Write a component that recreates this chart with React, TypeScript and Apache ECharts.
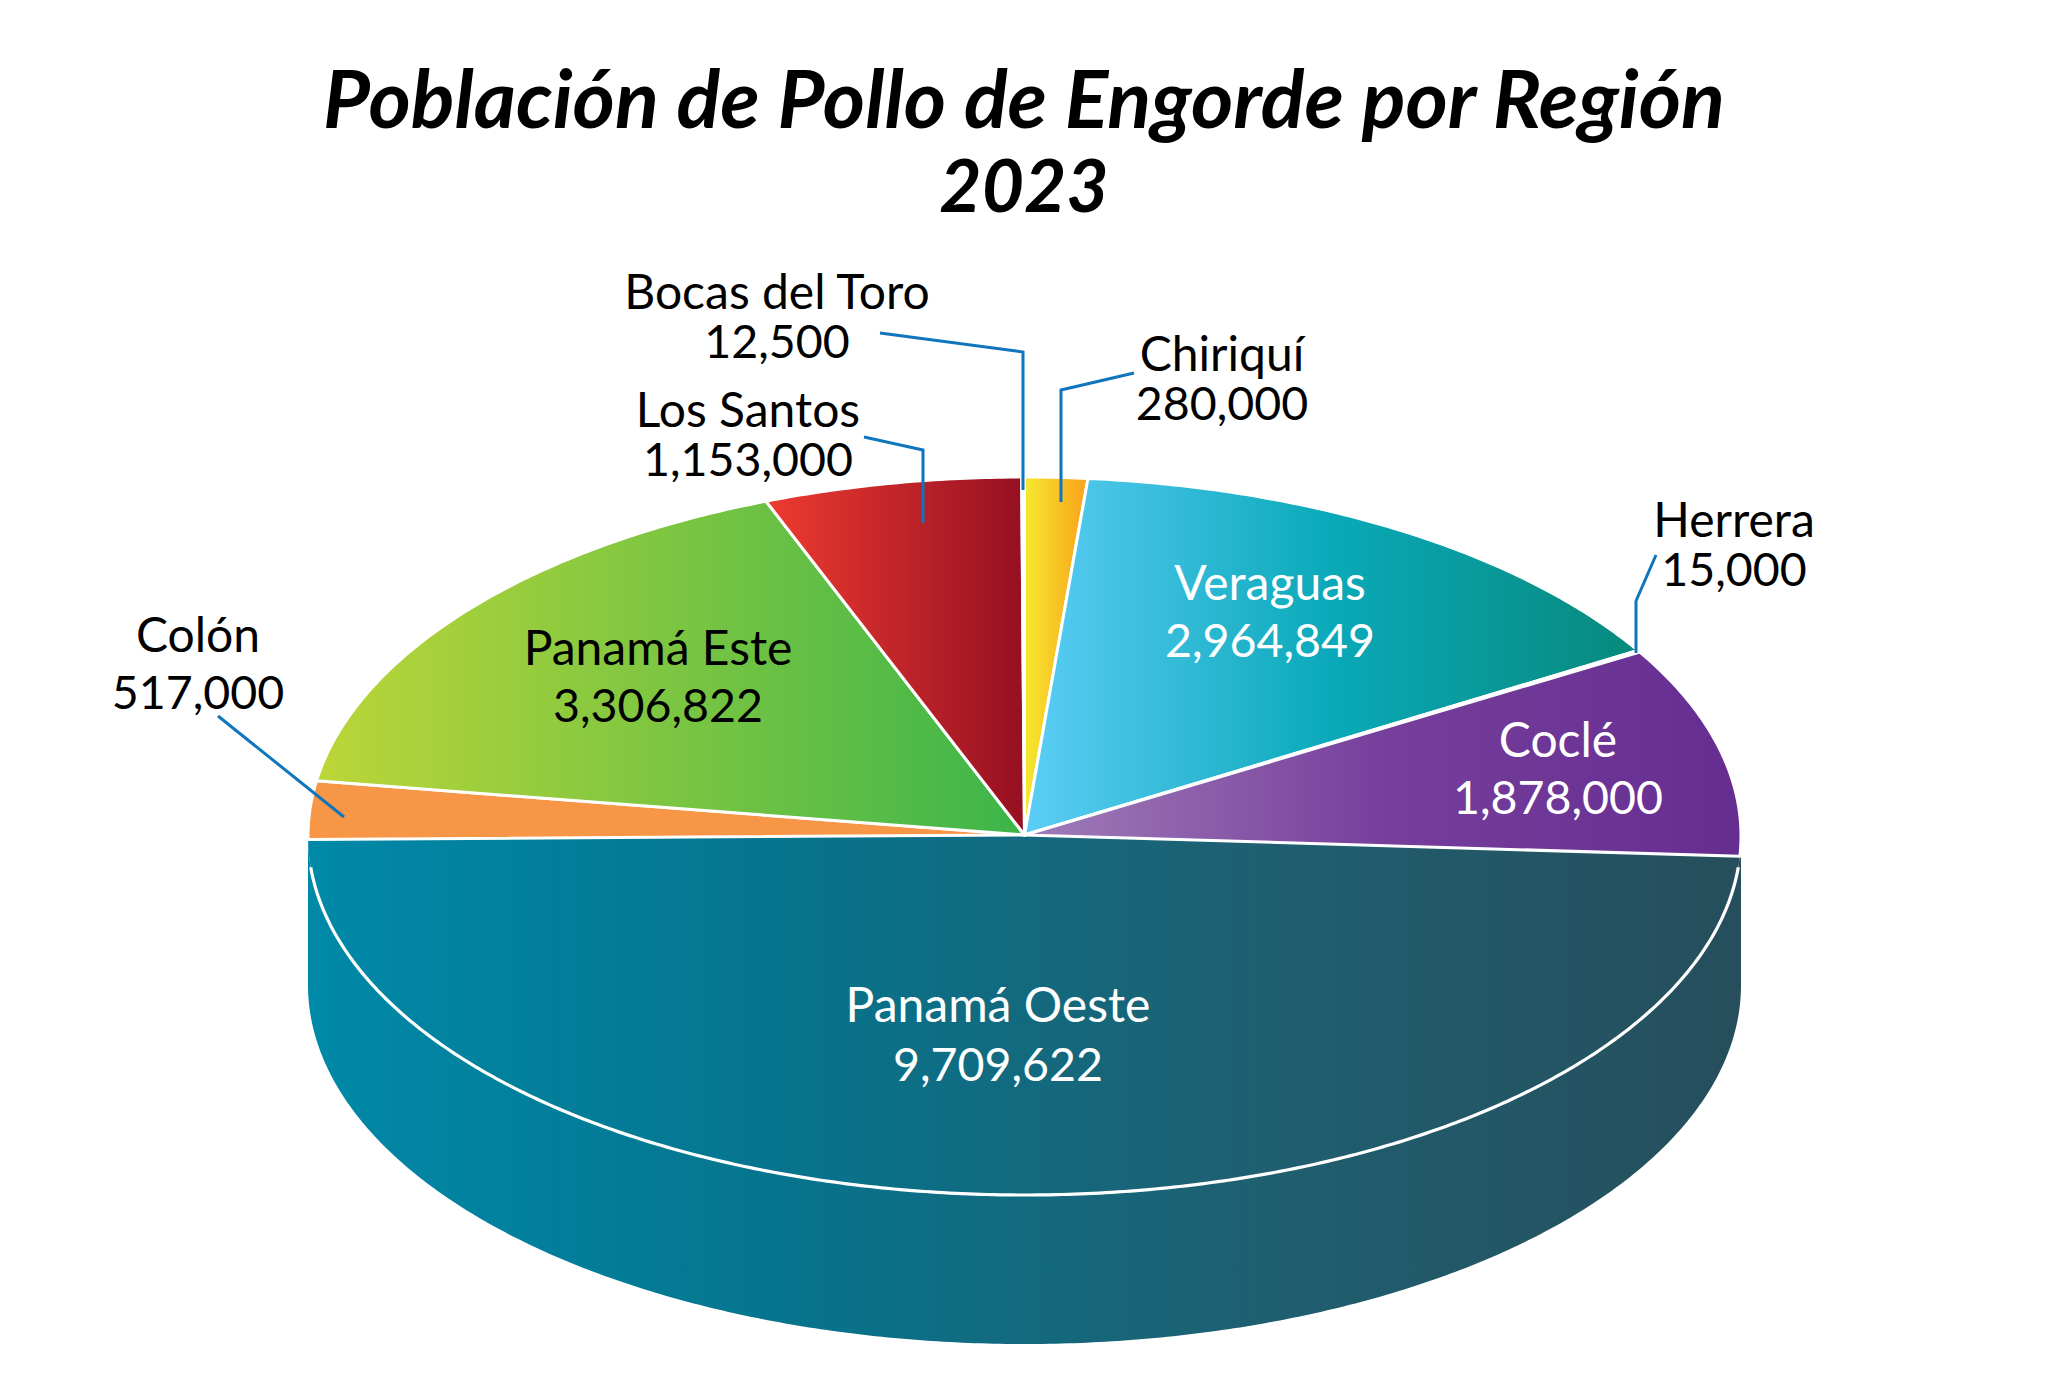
import React, { useEffect, useRef } from "react";
import * as echarts from "echarts";

const categories = ["Chiriquí", "Veraguas", "Herrera", "Coclé", "Panamá Oeste", "Colón", "Panamá Este", "Los Santos", "Bocas del Toro"];
const values = [280000, 2964849, 15000, 1878000, 9709622, 517000, 3306822, 1153000, 12500];
const titleLines = ["Población de Pollo de Engorde por Región", "2023"];

const gradients: string[][] = [
  ["#f5e92f", "#faa21b"],
  ["#5ccdf6", "#0aa9b9", "#07897b"],
  ["#ffffff", "#ffffff"],
  ["#a07cb8", "#763f9c", "#652d90"],
  ["#0089a8", "#06748d", "#1f5f70", "#264e5c"],
  ["#f79646", "#f79646"],
  ["#bcd638", "#3cb54a"],
  ["#ee3b30", "#951022"],
  ["#ffffff", "#ffffff"],
];
const textColors = ["#000", "#fff", "#000", "#fff", "#fff", "#000", "#000", "#000", "#000"];

// Layout, not data: label centres, line heights, and leader lines
const labelPos: [number, number, number][] = [
  [1222, 377, 50], [1270, 610, 58], [1734, 543, 50], [1558, 767, 58], [998, 1033, 59],
  [198, 662, 58], [658, 675, 58], [748, 433, 50], [777, 315, 50],
];
const leaders: ([number, number][] | null)[] = [
  [[1134, 373], [1061, 390], [1061, 502]],
  null,
  [[1656, 555], [1636, 601], [1636, 653]],
  null,
  null,
  [[218, 716], [344, 817]],
  null,
  [[864, 437], [923, 450], [923, 523]],
  [[880, 333], [1023, 352], [1023, 490]],
];

const CX = 1024.5, CY = 836, RX = 716.5, RY = 359, DEPTH = 149;
const FRONT = categories.indexOf("Panamá Oeste");

const total = values.reduce((a, b) => a + b, 0);
let acc = 0;
const rows = values.map((v, i) => {
  const start = (acc / total) * 360;
  acc += v;
  return { name: categories[i], value: [v, start, (acc / total) * 360, i] };
});
const drawOrder = [FRONT, ...rows.map((_, i) => i).filter((i) => i !== FRONT)].map((i) => rows[i]);

const pt = (deg: number, dy = 0): [number, number] => {
  const r = (deg * Math.PI) / 180;
  return [CX + RX * Math.sin(r), CY + dy - RY * Math.cos(r)];
};
const arc = (a: number, b: number, dy = 0) => {
  const n = Math.max(2, Math.ceil((b - a) / 0.5));
  const out: [number, number][] = [];
  for (let k = 0; k <= n; k++) out.push(pt(a + ((b - a) * k) / n, dy));
  return out;
};
const fillOf = (i: number) => {
  const c = gradients[i];
  return new echarts.graphic.LinearGradient(0, 0, 1, 0, c.map((color, k) => ({ offset: k / (c.length - 1), color })));
};

const renderSlice = (_p: any, api: any) => {
  const start = api.value(1), end = api.value(2), i = api.value(3);
  const children: any[] = [];
  if (i === FRONT) {
    const wall = [...arc(90, 270, 0), ...arc(90, 270, DEPTH).reverse()];
    children.push({ type: "polygon", shape: { points: wall }, style: { fill: fillOf(i) } });
    children.push({ type: "polygon", shape: { points: [[CX, CY - 1], ...arc(start, end)] }, style: { fill: fillOf(i) } });
    children.push({ type: "polyline", shape: { points: arc(95, 265) }, style: { stroke: "#fff", lineWidth: 3.2, fill: "none" } });
  } else {
    children.push({
      type: "polygon",
      shape: { points: [[CX, CY - 1], ...arc(start, end)] },
      style: { fill: fillOf(i), stroke: "#fff", lineWidth: 3, lineJoin: "round" },
    });
  }
  return { type: "group", children };
};

const labelText = (text: string, x: number, y: number, fontSize: number, fill: string) => ({
  type: "text",
  x, y,
  style: { text, align: "center", verticalAlign: "middle", fontFamily: "Lato", fontSize, fill },
});

const renderLabel = (_p: any, api: any) => {
  const i = api.value(3), v = api.value(0);
  const [x, y, lh] = labelPos[i];
  const children: any[] = [];
  const lead = leaders[i];
  if (lead) children.push({ type: "polyline", shape: { points: lead }, style: { stroke: "#0f75bd", lineWidth: 3, fill: "none" } });
  children.push(labelText(categories[i], x, y - lh / 2, 48, textColors[i]));
  children.push(labelText(Number(v).toLocaleString("en-US"), x, y + lh / 2, 46.5, textColors[i]));
  return { type: "group", children };
};

export default function App() {
  const ref = useRef<HTMLDivElement>(null);
  useEffect(() => {
    const chart = echarts.init(ref.current!, null, { renderer: "svg" });
    const base = { fontFamily: "Lato", fontWeight: "bold", fontStyle: "italic", color: "#000", lineHeight: 88 };
    chart.setOption({
      animation: false,
      backgroundColor: "#fff",
      title: {
        text: `{a|${titleLines[0]}}\n{b|${titleLines[1]}}`,
        left: "center",
        top: 47,
        textStyle: {
          ...base,
          fontSize: 81,
          rich: { a: { ...base, fontSize: 81 }, b: { ...base, fontSize: 73 } },
        },
      },
      series: [
        { type: "custom", coordinateSystem: "none", renderItem: renderSlice, data: drawOrder, silent: true, z: 1 },
        { type: "custom", coordinateSystem: "none", renderItem: renderLabel, data: drawOrder, silent: true, z: 2 },
      ],
    });
    return () => chart.dispose();
  }, []);
  return <div ref={ref} style={{ position: "fixed", left: 0, top: 0, width: 2048, height: 1396 }} />;
}
